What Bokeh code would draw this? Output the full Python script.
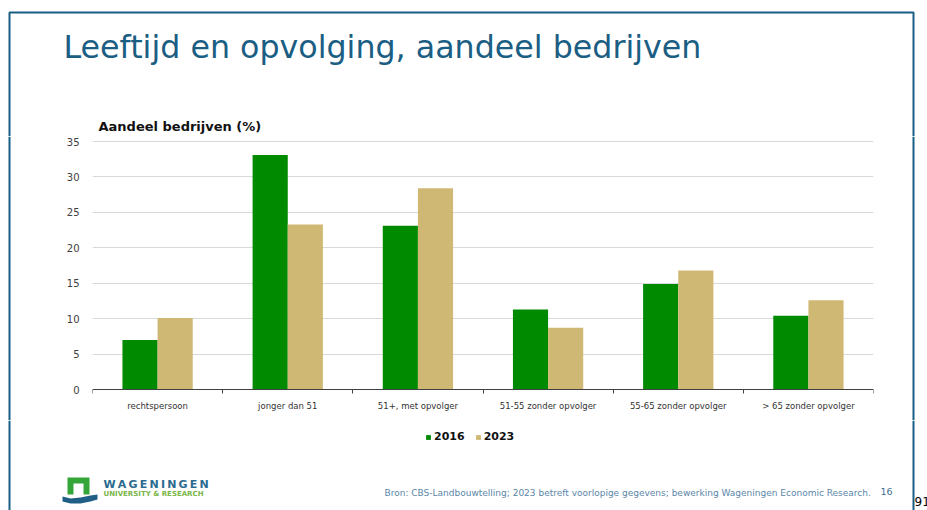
import numpy as np
from bokeh.plotting import figure
from bokeh.layouts import column, row
from bokeh.models import Range1d, FixedTicker, Legend, LegendItem
from bokeh.core.properties import value
from bokeh.embed import file_html
from bokeh.resources import INLINE

# ---- data ----
categories = ["rechtspersoon", "jonger dan 51", "51+, met opvolger",
              "51-55 zonder opvolger", "55-65 zonder opvolger", "> 65 zonder opvolger"]
v2016 = [7.0, 33.1, 23.1, 11.3, 14.9, 10.4]
v2023 = [10.1, 23.3, 28.4, 8.7, 16.8, 12.6]
series_names = ["2016", "2023"]
y_ticks = [0, 5, 10, 15, 20, 25, 30, 35]

GREEN = "#008a00"
TAN = "#cfb874"
BLUE = "#1b5e83"
FONT = "DejaVu Sans"

W = 927
Y_TOP = 136      # end of title band
Y_MID = 420      # end of chart band
H_ALL = 510
X_L = 20         # left strip width
X_R = 906        # start of right strip
FRAME_L, FRAME_R = 92, 873
Y0_PX, Y35_PX = 389, 141          # pixel rows of the 0 and 35 gridlines
HB = Y_MID - Y_TOP
PX_PER_UNIT = (Y0_PX - Y35_PX) / 35.0


def deco(width, height, xr, yr):
    f = figure(width=width, height=height, x_range=Range1d(*xr), y_range=Range1d(*yr),
               output_backend="svg", toolbar_location=None,
               x_axis_location=None, y_axis_location=None, min_border=0)
    f.outline_line_color = None
    f.background_fill_color = "white"
    f.border_fill_color = "white"
    f.xgrid.visible = False
    f.ygrid.visible = False
    return f


def txt(f, s, x, y, size, color, style="normal", align="left"):
    f.text(x=[x], y=[y], text=[s], text_font=value(FONT), text_font_size=size,
           text_color=color, text_font_style=style, text_baseline="middle", text_align=align)


# ---- top band: slide frame, title, y label ----
top = deco(W, Y_TOP, (0, W), (Y_TOP, 0))
top.multi_line(xs=[[9, 9, 913, 913]], ys=[[Y_TOP, 12, 12, Y_TOP]], line_color=BLUE, line_width=2)
txt(top, "Leeftijd en opvolging, aandeel bedrijven", 63, 46, "31.7px", BLUE)
txt(top, "Aandeel bedrijven (%)", 98, 125.5, "13px", "#111111", style="bold")

# ---- chart (frame spans the whole band height; x axis fixed at y = 0) ----
y_lo = -(Y_MID - Y0_PX) / PX_PER_UNIT
y_hi = (Y0_PX - Y_TOP) / PX_PER_UNIT
p = figure(width=X_R - X_L, height=HB,
           x_range=Range1d(0, len(categories)), y_range=Range1d(y_lo, y_hi),
           output_backend="svg", toolbar_location=None,
           min_border_left=FRAME_L - X_L, min_border_right=X_R - FRAME_R,
           min_border_top=0, min_border_bottom=0)
p.outline_line_color = None
p.background_fill_color = "white"
p.border_fill_color = "white"

centers = np.arange(len(categories)) + 0.5
bw = 0.27
r1 = p.vbar(x=centers - bw / 2, top=v2016, width=bw, fill_color=GREEN, line_color=None)
r2 = p.vbar(x=centers + bw / 2, top=v2023, width=bw, fill_color=TAN, line_color=None)

xa = p.xaxis[0]
xa.fixed_location = 0
xa.ticker = FixedTicker(ticks=list(centers), minor_ticks=list(range(len(categories) + 1)))
xa.major_label_overrides = {float(c): lab for c, lab in zip(centers, categories)}
xa.major_tick_out = 0
xa.major_tick_in = 0
xa.minor_tick_out = 4
xa.minor_tick_in = 0
xa.minor_tick_line_color = "#404040"
xa.axis_line_color = "#404040"
xa.major_label_text_font = FONT
xa.major_label_text_font_size = "8.5px"
xa.major_label_text_color = "#333333"
xa.major_label_standoff = 7

ya = p.yaxis[0]
ya.ticker = FixedTicker(ticks=y_ticks)
ya.axis_line_color = None
ya.major_tick_out = 0
ya.major_tick_in = 0
ya.minor_tick_line_color = None
ya.major_label_standoff = 13
ya.major_label_text_font = FONT
ya.major_label_text_font_size = "10px"
ya.major_label_text_color = "#404040"

p.xgrid.grid_line_color = None
p.ygrid.grid_line_color = "#d9d9d9"
p.ygrid.grid_line_width = 1

# side strips carrying the slide frame lines
left = deco(X_L, HB, (0, X_L), (Y_MID, Y_TOP))
left.line(x=[9, 9], y=[Y_TOP, Y_MID], line_color=BLUE, line_width=2)
right = deco(W - X_R, HB, (X_R, W), (Y_MID, Y_TOP))
right.line(x=[913, 913], y=[Y_TOP, Y_MID], line_color=BLUE, line_width=2)

# ---- bottom band: legend, logo, source ----
bot = deco(W, H_ALL - Y_MID, (0, W), (H_ALL, Y_MID))
bot.multi_line(xs=[[9, 9], [913, 913]], ys=[[Y_MID, H_ALL], [Y_MID, H_ALL]],
               line_color=BLUE, line_width=2)

# legend keys (same series, hidden here; the visible bars are in the chart above)
k1 = bot.vbar(x=centers, top=v2016, width=bw, fill_color=GREEN, line_color=None, visible=False)
k2 = bot.vbar(x=centers, top=v2023, width=bw, fill_color=TAN, line_color=None, visible=False)
legend = Legend(items=[LegendItem(label=series_names[0], renderers=[k1]),
                       LegendItem(label=series_names[1], renderers=[k2])],
                orientation="horizontal", location=(425, H_ALL - 443),
                glyph_width=6, glyph_height=6, label_height=6, label_standoff=3, spacing=10,
                padding=0, margin=0, border_line_color=None, background_fill_alpha=0,
                inactive_fill_alpha=0,
                label_text_font=FONT, label_text_font_style="bold",
                label_text_font_size="11px", label_text_color="#111111")
bot.add_layout(legend, "center")

bot.patch(x=[67, 67, 89, 89, 83, 83, 73, 73], y=[494, 477, 477, 494, 494, 483, 483, 494],
          fill_color="#34a639", line_color=None)
bot.patch(x=[62, 70, 80, 90, 97, 97, 90, 80, 70, 62], y=[496, 498, 497, 495, 494, 499, 501, 503, 503, 501],
          fill_color="#1f5f86", line_color=None)
txt(bot, "W\u2009A\u2009G\u2009E\u2009N\u2009I\u2009N\u2009G\u2009E\u2009N", 103, 483.5, "11px", "#2a6b8f",
    style="bold")
txt(bot, "UNIVERSITY & RESEARCH", 103, 493, "7px", "#7ab648", style="bold")

txt(bot, "Bron: CBS-Landbouwtelling; 2023 betreft voorlopige gegevens; bewerking Wageningen Economic Research.",
    384, 492, "9px", "#5b86a8")
txt(bot, "16", 880, 491, "9.5px", "#3d6f96")
txt(bot, "91", 914, 501, "12px", "#000000")

layout = column(top, row(left, p, right), bot)

open("out.html", "w").write(file_html(layout, INLINE))
